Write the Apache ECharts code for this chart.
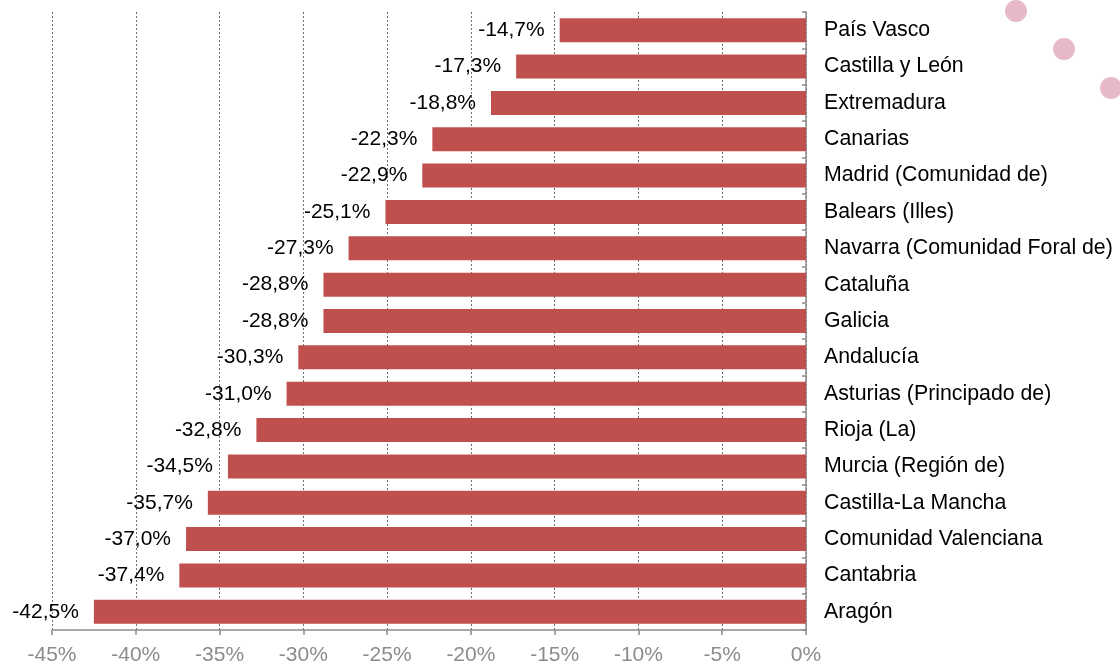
<!DOCTYPE html>
<html>
<head>
<meta charset="utf-8">
<script src="https://cdn.jsdelivr.net/npm/echarts@6/dist/echarts.min.js"></script>
<style>
html,body{margin:0;padding:0;background:#fff;}
#c{width:1120px;height:666px;}
</style>
</head>
<body>
<div id="c"></div>
<script>
var categories = ["País Vasco","Castilla y León","Extremadura","Canarias","Madrid (Comunidad de)","Balears (Illes)","Navarra (Comunidad Foral de)","Cataluña","Galicia","Andalucía","Asturias (Principado de)","Rioja (La)","Murcia (Región de)","Castilla-La Mancha","Comunidad Valenciana","Cantabria","Aragón"];
var values = [-14.7,-17.3,-18.8,-22.3,-22.9,-25.1,-27.3,-28.8,-28.8,-30.3,-31.0,-32.8,-34.5,-35.7,-37.0,-37.4,-42.5];
var xMin = -45, xMax = 0, xStep = 5;

var chart = echarts.init(document.getElementById('c'));
var font = 'Liberation Sans, Arial, sans-serif';
chart.setOption({
  animation: false,
  backgroundColor: '#ffffff',
  graphic: [
    {type:'circle', shape:{cx:1016, cy:11, r:11}, style:{fill:'#dca3b3', opacity:0.75}, silent:true, z:-10},
    {type:'circle', shape:{cx:1064, cy:49, r:11}, style:{fill:'#dca3b3', opacity:0.75}, silent:true, z:-10},
    {type:'circle', shape:{cx:1111, cy:88, r:11}, style:{fill:'#dca3b3', opacity:0.75}, silent:true, z:-10}
  ],
  grid: {left: 52, right: 314, top: 12, bottom: 36, containLabel: false},
  xAxis: {
    type: 'value', min: xMin, max: xMax, interval: xStep,
    axisLine: {show: true, lineStyle: {color: '#8c8c8c', width: 1.5}},
    axisTick: {show: true, length: 5, lineStyle: {color: '#8c8c8c', width: 1.5}},
    axisLabel: {color: '#8c8c8c', fontSize: 21, fontFamily: font, margin: 15,
      formatter: function(v){ return v + '%'; }},
    splitLine: {show: true, lineStyle: {color: '#6e6e6e', type: [2, 2], width: 1}}
  },
  yAxis: {
    type: 'category', data: categories, inverse: true, position: 'right',
    axisLine: {show: true, onZero: false, lineStyle: {color: '#8c8c8c', width: 1.5}},
    axisTick: {show: true, inside: true, length: 4, lineStyle: {color: '#8c8c8c', width: 1.5}},
    axisLabel: {color: '#000', fontSize: 21.3, fontFamily: font, margin: 18},
    splitLine: {show: false}
  },
  series: [{
    type: 'bar', data: values, barWidth: 24,
    itemStyle: {color: '#c0504d'},
    label: {show: true, position: 'left', distance: 15, color: '#000', fontSize: 21, fontFamily: font,
      formatter: function(p){ return p.value.toFixed(1).replace('.', ',') + '%'; }}
  }]
});
</script>
</body>
</html>
